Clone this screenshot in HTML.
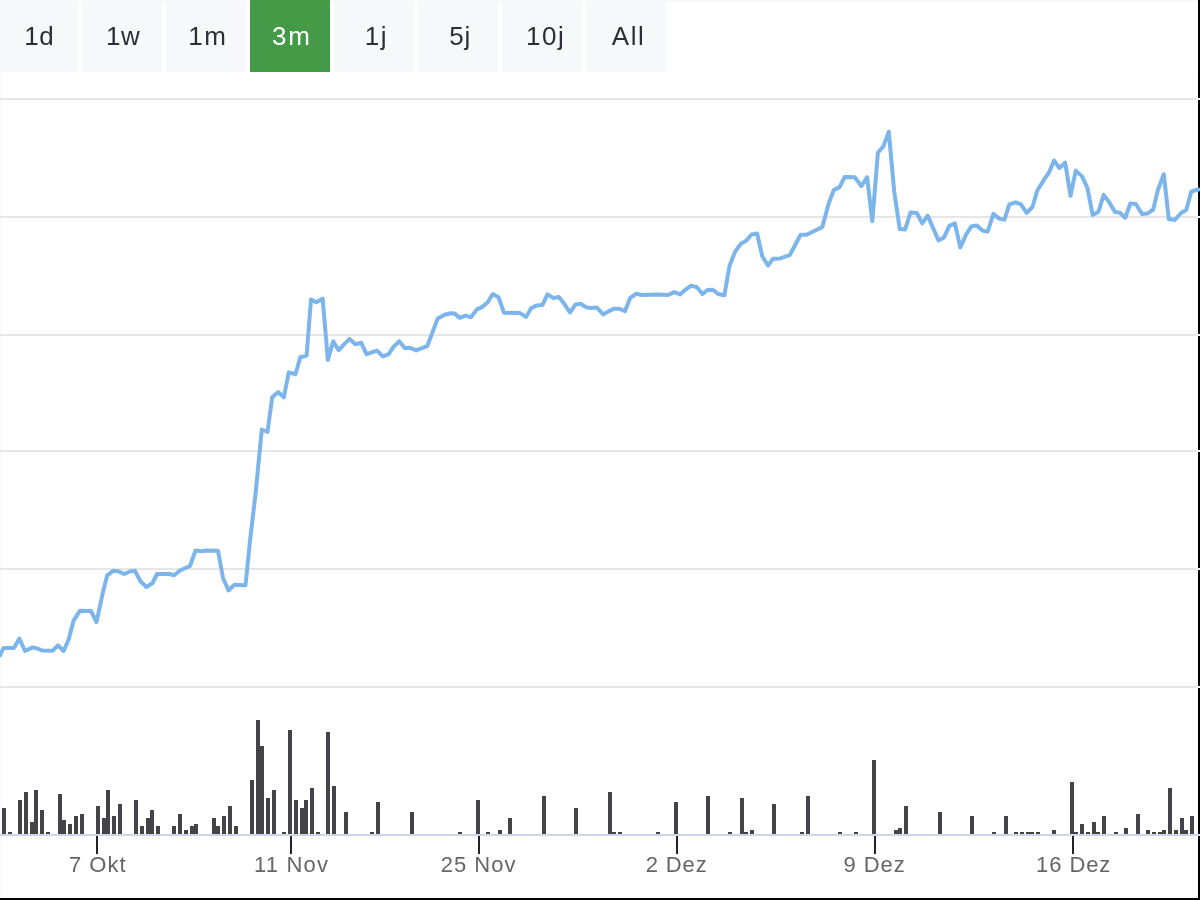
<!DOCTYPE html>
<html><head><meta charset="utf-8"><style>
html,body{margin:0;padding:0;background:#fff;width:1200px;height:900px;overflow:hidden}
svg{display:block;will-change:transform;font-family:"Liberation Sans",sans-serif}
</style></head><body>
<svg width="1200" height="900" viewBox="0 0 1200 900">
<rect x="0" y="0" width="1200" height="2" fill="#f7f8fa"/>
<rect x="-2" y="0" width="80" height="72" fill="#f7f8fa"/>
<text x="24.30" y="45" letter-spacing="0.50" fill="#2a2f38" font-size="26">1d</text>
<rect x="82" y="0" width="80" height="72" fill="#f7f8fa"/>
<text x="106.10" y="45" letter-spacing="0.50" fill="#2a2f38" font-size="26">1w</text>
<rect x="166" y="0" width="80" height="72" fill="#f7f8fa"/>
<text x="188.25" y="45" letter-spacing="1.55" fill="#2a2f38" font-size="26">1m</text>
<rect x="250" y="0" width="80" height="72" fill="#449a46"/>
<text x="272.10" y="45" letter-spacing="1.80" fill="#ffffff" font-size="26">3m</text>
<rect x="334" y="0" width="80" height="72" fill="#f7f8fa"/>
<text x="364.80" y="45" letter-spacing="1.40" fill="#2a2f38" font-size="26">1j</text>
<rect x="418" y="0" width="80" height="72" fill="#f7f8fa"/>
<text x="449.30" y="45" letter-spacing="0.70" fill="#2a2f38" font-size="26">5j</text>
<rect x="502" y="0" width="80" height="72" fill="#f7f8fa"/>
<text x="525.90" y="45" letter-spacing="1.60" fill="#2a2f38" font-size="26">10j</text>
<rect x="586" y="0" width="80" height="72" fill="#f7f8fa"/>
<text x="611.75" y="45" letter-spacing="1.57" fill="#2a2f38" font-size="26">All</text>
<rect x="0" y="72" width="2" height="826" fill="#f8f9fa"/>
<rect x="0" y="98" width="1200" height="2" fill="#e6e6e6"/>
<rect x="0" y="216" width="1200" height="2" fill="#e6e6e6"/>
<rect x="0" y="334" width="1200" height="2" fill="#e6e6e6"/>
<rect x="0" y="450" width="1200" height="2" fill="#e6e6e6"/>
<rect x="0" y="568" width="1200" height="2" fill="#e6e6e6"/>
<rect x="0" y="686" width="1200" height="2" fill="#e6e6e6"/>
<path d="M2 808h4V834h-4ZM8 832h4V834h-4ZM18 800h4V834h-4ZM24 792h4V834h-4ZM30 822h4V834h-4ZM34 790h4V834h-4ZM40 810h4V834h-4ZM46 832h4V834h-4ZM58 794h4V834h-4ZM62 820h4V834h-4ZM68 824h4V834h-4ZM74 816h4V834h-4ZM80 814h4V834h-4ZM96 806h4V834h-4ZM102 818h4V834h-4ZM106 790h4V834h-4ZM112 816h4V834h-4ZM118 804h4V834h-4ZM134 800h4V834h-4ZM140 826h4V834h-4ZM146 818h4V834h-4ZM150 810h4V834h-4ZM156 826h4V834h-4ZM172 826h4V834h-4ZM178 814h4V834h-4ZM184 830h4V834h-4ZM190 826h4V834h-4ZM194 824h4V834h-4ZM212 818h4V834h-4ZM216 826h4V834h-4ZM222 816h4V834h-4ZM228 806h4V834h-4ZM234 826h4V834h-4ZM250 780h4V834h-4ZM256 720h4V834h-4ZM260 746h4V834h-4ZM266 798h4V834h-4ZM272 790h4V834h-4ZM282 832h4V834h-4ZM288 730h4V834h-4ZM294 800h4V834h-4ZM300 808h4V834h-4ZM304 800h4V834h-4ZM310 788h4V834h-4ZM316 832h4V834h-4ZM326 732h4V834h-4ZM332 786h4V834h-4ZM344 812h4V834h-4ZM370 832h4V834h-4ZM376 802h4V834h-4ZM410 812h4V834h-4ZM458 832h4V834h-4ZM476 800h4V834h-4ZM486 832h4V834h-4ZM498 830h4V834h-4ZM508 818h4V834h-4ZM542 796h4V834h-4ZM574 808h4V834h-4ZM608 792h4V834h-4ZM612 832h4V834h-4ZM618 832h4V834h-4ZM656 832h4V834h-4ZM674 802h4V834h-4ZM706 796h4V834h-4ZM728 832h4V834h-4ZM740 798h4V834h-4ZM744 832h4V834h-4ZM750 830h4V834h-4ZM772 804h4V834h-4ZM800 832h4V834h-4ZM806 796h4V834h-4ZM838 832h4V834h-4ZM854 832h4V834h-4ZM872 760h4V834h-4ZM894 830h4V834h-4ZM898 828h4V834h-4ZM904 806h4V834h-4ZM938 812h4V834h-4ZM970 816h4V834h-4ZM992 832h4V834h-4ZM1004 816h4V834h-4ZM1014 832h4V834h-4ZM1020 832h4V834h-4ZM1026 832h4V834h-4ZM1030 832h4V834h-4ZM1036 832h4V834h-4ZM1052 830h4V834h-4ZM1070 782h4V834h-4ZM1074 832h4V834h-4ZM1080 824h4V834h-4ZM1086 832h4V834h-4ZM1092 822h4V834h-4ZM1096 832h4V834h-4ZM1102 816h4V834h-4ZM1114 832h4V834h-4ZM1124 828h4V834h-4ZM1136 814h4V834h-4ZM1146 830h4V834h-4ZM1152 832h4V834h-4ZM1158 832h4V834h-4ZM1162 830h4V834h-4ZM1168 788h4V834h-4ZM1174 830h4V834h-4ZM1180 818h4V834h-4ZM1184 830h4V834h-4ZM1190 816h4V834h-4Z" fill="#434348"/>
<rect x="0" y="834" width="1200" height="2" fill="#ccd6eb"/>
<rect x="96" y="836" width="2" height="18" fill="#222"/>
<text x="69.00" y="872" letter-spacing="1.00" fill="#666666" font-size="22">7 Okt</text>
<rect x="290" y="836" width="2" height="18" fill="#222"/>
<text x="254.00" y="872" letter-spacing="1.18" fill="#666666" font-size="22">11 Nov</text>
<rect x="478" y="836" width="2" height="18" fill="#222"/>
<text x="440.70" y="872" letter-spacing="1.02" fill="#666666" font-size="22">25 Nov</text>
<rect x="676" y="836" width="2" height="18" fill="#222"/>
<text x="645.70" y="872" letter-spacing="0.89" fill="#666666" font-size="22">2 Dez</text>
<rect x="874" y="836" width="2" height="18" fill="#222"/>
<text x="843.60" y="872" letter-spacing="0.90" fill="#666666" font-size="22">9 Dez</text>
<rect x="1072" y="836" width="2" height="18" fill="#222"/>
<text x="1036.10" y="872" letter-spacing="0.90" fill="#666666" font-size="22">16 Dez</text>
<rect x="1196" y="72" width="1" height="825" fill="#f8f9fa"/>
<rect x="0" y="896" width="1197" height="1" fill="#f8f9fa"/>
<rect x="1198" y="0" width="2" height="900" fill="#000"/>
<rect x="0" y="898" width="1200" height="2" fill="#000"/>
<rect x="1198" y="98" width="2" height="2" fill="#fff"/>
<rect x="1198" y="216" width="2" height="2" fill="#fff"/>
<rect x="1198" y="334" width="2" height="2" fill="#fff"/>
<rect x="1198" y="450" width="2" height="2" fill="#fff"/>
<rect x="1198" y="568" width="2" height="2" fill="#fff"/>
<rect x="1198" y="686" width="2" height="2" fill="#fff"/>
<rect x="1196" y="834" width="4" height="2" fill="#ccd6eb"/>
<polyline points="0,655.3 3.5,648 13.9,648 19.4,638.6 25,651 32,647.6 36,648 41.7,650.4 52.8,650.7 58,645.3 63.6,651 68.75,639.3 73.6,620.6 79.9,610.8 91,611 96.5,622 102.8,592.8 107.2,575.4 113.2,570.8 118,571.25 124.3,574 130.6,571.25 135,570.8 140.3,581 146.5,587.2 152.5,583 157,574 169,574 174,575.2 180,570.5 190,566 195.5,550.5 201.5,551.2 206.5,550.5 218,550.8 223,578 228.5,590.5 234.5,584.8 245.5,585.2 250.1,540 255.6,493.3 261.8,429.5 267.5,432 272.2,397.3 278.1,392 283.8,397.3 288.8,372.4 295.5,374.2 300.3,357.3 306.6,355.6 311,299.6 316.3,302.2 322.6,298.7 327.9,360 333.2,341.3 338.6,350.2 344.3,344.2 349.6,338.9 355.4,344.2 361.3,342.8 366.5,354.1 377,350.6 382.8,356.4 388.7,354.1 393.3,347.1 399.2,341.3 405,348.3 409.7,347.7 416.1,350.4 427.2,346.2 432.4,332.5 437.7,318.5 444.7,314.7 450.5,313.3 454.6,313.6 459.8,317.9 465.7,315.6 470.9,317.3 476.9,309.4 481.9,307.1 487.5,302.5 492.75,294 498.5,297.25 504,312.75 520,313.1 526,316.9 531.25,308.1 536.9,305.4 542.5,305 547.5,294.4 553.75,298.1 558.75,296.9 563.75,303.1 570,312.5 575.6,304.4 580.6,303.75 586.25,307.25 591.25,308.1 596.9,307.5 603.1,314.4 610,310.6 613.75,308.75 619.4,308.75 625,311.25 630,298.1 636.25,293.75 641.9,295 657.5,294.6 668.1,295 674.4,292.1 680,294.4 685,290 691.25,285.6 696.9,287.25 702.5,294 707.5,290 713.1,289.75 718.1,294 724.4,295.25 729.4,266.25 735,251.9 740.6,244 746.25,240.6 751.6,234.5 757.1,233.5 762.3,256.5 768,265.5 773.1,258.7 780.2,258.4 789.7,255.2 800.6,234.8 806.4,234.8 812.7,231.8 822.3,227.1 828.7,203.5 833.8,190 839.6,187.1 844.7,176.9 854.9,177.3 861.3,186.2 867.1,177.3 872.3,221.2 877.9,152.7 883.3,146.4 888.8,131.7 894.2,191.5 899.7,228.9 905.1,229.6 910.5,212.5 916.8,213 922.2,223.4 927.7,215.6 938.5,240.5 944,237.4 949.4,225.8 954.9,223.4 960.3,247.5 965.8,235.1 971.2,226.5 976.6,225.4 982.9,230.7 987.8,231.5 993.4,213.9 999.2,218.6 1004.5,219.7 1009.3,204.4 1015.6,202.3 1020.9,204.4 1026.7,212.8 1032.5,207 1037.2,190.7 1043,181.2 1048.9,172.7 1054.1,160.6 1059.4,168 1065.2,162.7 1070.5,195.9 1075.8,170.6 1082.1,176.4 1087.4,188 1092.7,214.9 1098.4,211.8 1103.7,194.9 1109.25,202.2 1114.75,211.8 1119.8,212.7 1125.3,217.75 1130.3,203.5 1135.8,204 1142.25,214.1 1147.3,213.6 1153.25,209.5 1157.8,190.25 1163.8,174.2 1168.8,219.1 1174.8,220 1180.75,213.2 1186.25,210 1191.3,191.6 1195.4,190.25 1198.5,189.5" fill="none" stroke="#7cb5ec" stroke-width="4" stroke-linejoin="round" stroke-linecap="round"/>
</svg>
</body></html>
